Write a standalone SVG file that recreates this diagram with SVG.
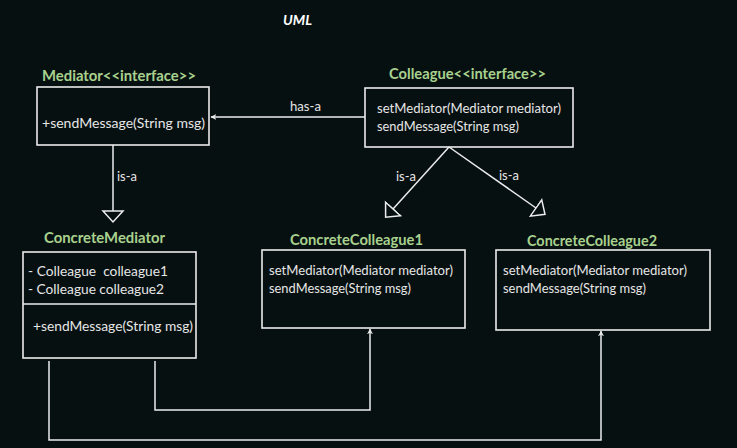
<svg xmlns="http://www.w3.org/2000/svg" width="737" height="448" viewBox="0 0 737 448">
<style>
.bg{fill:#061011}
.box{fill:none;stroke:#ececec;stroke-width:1.6}
.ln{fill:none;stroke:#ececec;stroke-width:1.5}
.t{font-family:Lato,"Open Sans","Liberation Sans",sans-serif;font-size:14px;fill:#e6e6e6}
.h{font-family:Lato,"Open Sans","Liberation Sans",sans-serif;font-size:14.5px;font-weight:bold;fill:#a9d18e}
.title{font-family:Lato,"Liberation Sans",sans-serif;font-size:14px;font-weight:bold;font-style:italic;fill:#ffffff}
.pre{white-space:pre}
</style>
<defs>
<marker id="arr" viewBox="0 0 10 10" refX="9" refY="5" markerWidth="6" markerHeight="6" markerUnits="userSpaceOnUse" orient="auto">
<path d="M0,0 L10,5 L0,10 L3,5 Z" fill="#ececec"/>
</marker>
<marker id="tri" viewBox="0 0 24 24" refX="1" refY="12" markerWidth="24" markerHeight="24" markerUnits="userSpaceOnUse" orient="auto">
<path d="M1,2 L12,12 L1,22 Z" fill="#061011" stroke="#ececec" stroke-width="1.5"/>
</marker>
</defs>
<rect class="bg" x="0" y="0" width="737" height="448"/>
<text class="title" x="283" y="25" textLength="29" lengthAdjust="spacingAndGlyphs">UML</text>

<g id="mediator">
<text class="h" x="42" y="81" textLength="154" lengthAdjust="spacingAndGlyphs">Mediator&lt;&lt;interface&gt;&gt;</text>
<rect class="box" x="37" y="87" width="172" height="58"/>
<text class="t" x="42" y="128" textLength="163" lengthAdjust="spacingAndGlyphs">+sendMessage(String msg)</text>
</g>

<g id="colleague">
<text class="h" x="389" y="79" textLength="157" lengthAdjust="spacingAndGlyphs">Colleague&lt;&lt;interface&gt;&gt;</text>
<rect class="box" x="365" y="88" width="208" height="59"/>
<text class="t" x="377" y="113" textLength="184" lengthAdjust="spacingAndGlyphs">setMediator(Mediator mediator)</text>
<text class="t" x="377" y="131" textLength="142" lengthAdjust="spacingAndGlyphs">sendMessage(String msg)</text>
</g>

<g id="concreteMediator">
<text class="h" x="44" y="243" textLength="121" lengthAdjust="spacingAndGlyphs">ConcreteMediator</text>
<rect class="box" x="23" y="252" width="173" height="106"/>
<line class="box" x1="23" y1="304" x2="196" y2="304"/>
<text class="t pre" x="28" y="276" textLength="140" lengthAdjust="spacingAndGlyphs" xml:space="preserve">- Colleague  colleague1</text>
<text class="t" x="28" y="294" textLength="136" lengthAdjust="spacingAndGlyphs">- Colleague colleague2</text>
<text class="t" x="33" y="331" textLength="160" lengthAdjust="spacingAndGlyphs">+sendMessage(String msg)</text>
</g>

<g id="concreteColleague1">
<text class="h" x="290" y="245" textLength="133" lengthAdjust="spacingAndGlyphs">ConcreteColleague1</text>
<rect class="box" x="262" y="250" width="203" height="78"/>
<text class="t" x="269" y="275" textLength="184" lengthAdjust="spacingAndGlyphs">setMediator(Mediator mediator)</text>
<text class="t" x="269" y="293" textLength="142" lengthAdjust="spacingAndGlyphs">sendMessage(String msg)</text>
</g>

<g id="concreteColleague2">
<text class="h" x="527" y="246" textLength="130" lengthAdjust="spacingAndGlyphs">ConcreteColleague2</text>
<rect class="box" x="496" y="250" width="214" height="80"/>
<text class="t" x="503" y="275" textLength="184" lengthAdjust="spacingAndGlyphs">setMediator(Mediator mediator)</text>
<text class="t" x="503" y="293" textLength="143" lengthAdjust="spacingAndGlyphs">sendMessage(String msg)</text>
</g>

<g id="connectors">
<line class="ln" x1="365" y1="117" x2="211" y2="117" marker-end="url(#arr)"/>
<text class="t" x="290" y="111" textLength="31" lengthAdjust="spacingAndGlyphs">has-a</text>
<line class="ln" x1="113" y1="145" x2="113" y2="211" marker-end="url(#tri)"/>
<text class="t" x="117" y="181" textLength="20" lengthAdjust="spacingAndGlyphs">is-a</text>
<line class="ln" x1="449" y1="147" x2="393" y2="209" marker-end="url(#tri)"/>
<text class="t" x="396" y="181" textLength="20" lengthAdjust="spacingAndGlyphs">is-a</text>
<line class="ln" x1="449" y1="147" x2="536" y2="208" marker-end="url(#tri)"/>
<text class="t" x="499" y="180" textLength="20" lengthAdjust="spacingAndGlyphs">is-a</text>
<polyline class="ln" points="155,361 155,410 370,410 370,329" marker-end="url(#arr)"/>
<polyline class="ln" points="49,361 49,440 601,440 601,331" marker-end="url(#arr)"/>
</g>
</svg>
